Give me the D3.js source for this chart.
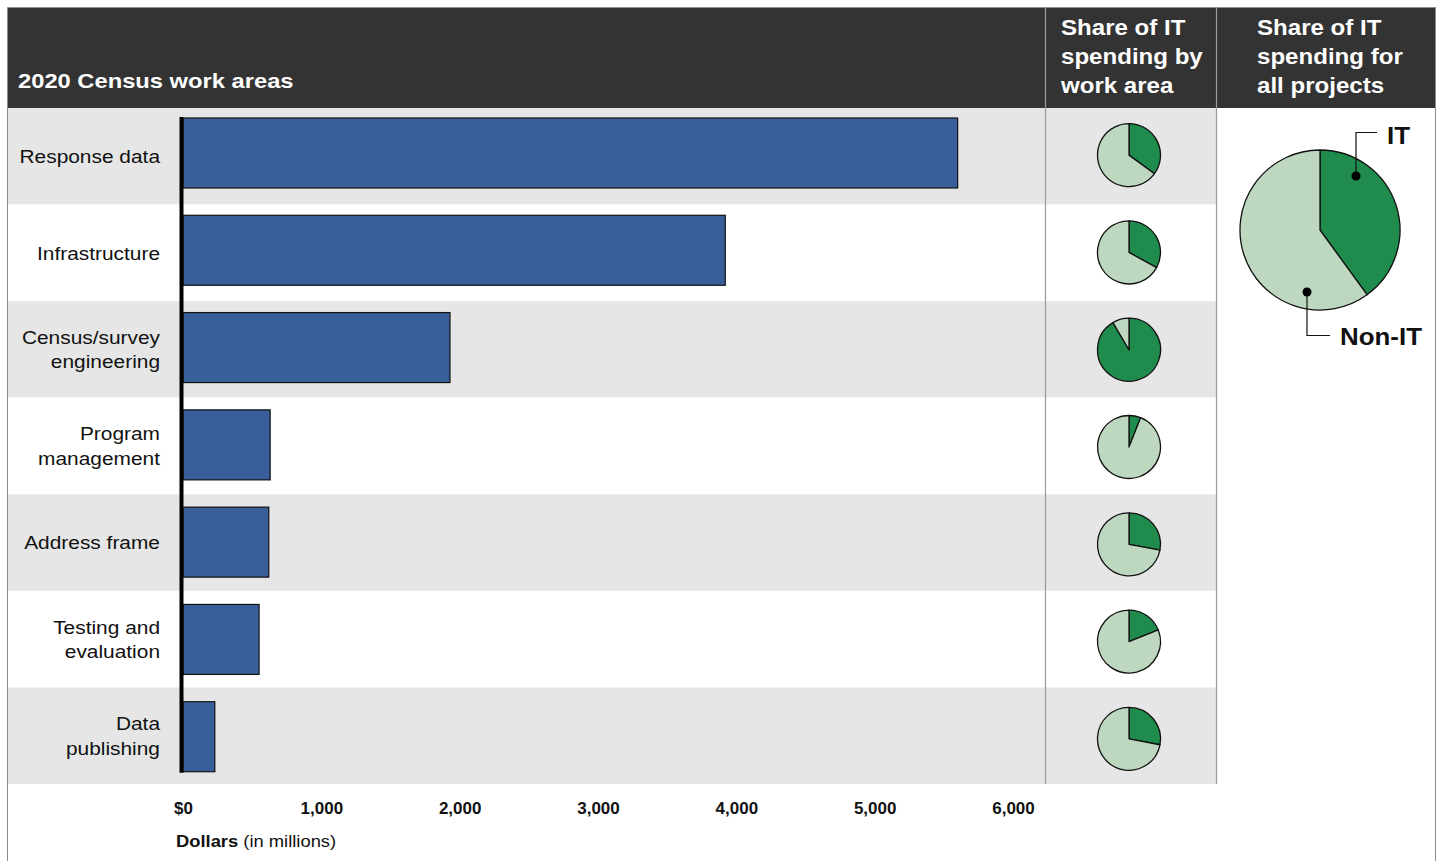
<!DOCTYPE html>
<html>
<head>
<meta charset="utf-8">
<script src="https://cdn.jsdelivr.net/npm/d3@7"></script>
<style>
  html, body { margin: 0; padding: 0; background: #fff; }
  svg { display: block; font-family: "Liberation Sans", Arial, sans-serif; }
</style>
</head>
<body>
<svg id="chart" width="1440" height="861"></svg>
<script>
// ---- data ----
const categories = ["Response data", "Infrastructure", "Census/survey\nengineering", "Program\nmanagement", "Address frame", "Testing and\nevaluation", "Data\npublishing"];
const spending = [5600, 3920, 1930, 630, 620, 550, 230];          // dollars in millions
const itShare = [0.35, 0.33, 0.915, 0.06, 0.28, 0.19, 0.28];      // share of IT spending by work area
const overallIT = [{ name: "IT", value: 0.40 }, { name: "Non-IT", value: 0.60 }];
const xTicks = [0, 1000, 2000, 3000, 4000, 5000, 6000];
const xTickLabels = ["$0", "1,000", "2,000", "3,000", "4,000", "5,000", "6,000"];

// ---- layout ----
const svg = d3.select("#chart");
const frameL = 7.5, frameR = 1435.5, frameT = 7.5;
const headerB = 108, rowsB = 784;
const sep1 = 1045.5, sep2 = 1216.5;
const darkGreen = "#1f8b4c", lightGreen = "#bed8c0", barBlue = "#395f9b";

const y = d3.scaleBand().domain(d3.range(categories.length)).range([headerB, rowsB]);      // row backgrounds + labels
const yMark = d3.scaleBand().domain(d3.range(categories.length)).range([106.5, 787.5]);    // bars + pies
const x = d3.scaleLinear().domain([0, 6000]).range([183, 1013]);

// helper: horizontally stretched text (reference type is set slightly wide)
function stext(parent, tx, ty, sx, anchor) {
  return parent.append("text")
    .attr("transform", `translate(${tx},${ty}) scale(${sx},1)`)
    .attr("x", 0).attr("y", 0)
    .attr("text-anchor", anchor || "start");
}

// header
svg.append("rect").attr("x", frameL).attr("y", frameT).attr("width", frameR - frameL).attr("height", headerB - frameT).attr("fill", "#333333");

// row bands
svg.selectAll("rect.band").data(categories).join("rect")
  .attr("class", "band")
  .attr("x", frameL).attr("y", (d, i) => y(i))
  .attr("width", sep2 - frameL).attr("height", y.bandwidth())
  .attr("fill", (d, i) => i % 2 === 0 ? "#e6e6e6" : "#ffffff");

// frame
svg.append("path")
  .attr("d", `M${frameL},861 V${frameT} H${frameR} V861`)
  .attr("fill", "none").attr("stroke", "#8c8c8c").attr("stroke-width", 1);

// separators
[sep1, sep2].forEach(sx => {
  svg.append("line").attr("x1", sx).attr("x2", sx).attr("y1", frameT).attr("y2", rowsB)
    .attr("stroke", "#9a9a9a").attr("stroke-width", 1.2);
});

// header text
stext(svg, 18, 88, 1.13).attr("fill", "#fff")
  .attr("font-size", 21).attr("font-weight", "bold").text("2020 Census work areas");
const head2 = ["Share of IT", "spending by", "work area"];
const head3 = ["Share of IT", "spending for", "all projects"];
[[head2, 1061], [head3, 1257]].forEach(([lines, hx]) => {
  lines.forEach((l, i) => {
    stext(svg, hx, 35 + i * 29, 1.07).attr("fill", "#fff")
      .attr("font-size", 22.5).attr("font-weight", "bold").text(l);
  });
});

// bars
const barTop = 11.5, barH = 70;
svg.selectAll("rect.bar").data(spending).join("rect")
  .attr("class", "bar")
  .attr("x", x(0)).attr("y", (d, i) => yMark(i) + barTop)
  .attr("width", d => x(d) - x(0)).attr("height", barH)
  .attr("fill", barBlue).attr("stroke", "#111").attr("stroke-width", 1.2);

// zero axis line
svg.append("line").attr("x1", x(0) - 1.5).attr("x2", x(0) - 1.5)
  .attr("y1", yMark(0) + barTop - 1).attr("y2", yMark(categories.length - 1) + barTop + barH + 1)
  .attr("stroke", "#000").attr("stroke-width", 4);

// row labels
categories.forEach((c, i) => {
  const lines = c.split("\n");
  const cy = y(i) + y.bandwidth() / 2;
  const lh = 24.5;
  lines.forEach((l, k) => {
    stext(svg, 160, cy + (k - (lines.length - 1) / 2) * lh, 1.13, "end")
      .attr("dy", "0.36em").attr("font-size", 18.5).attr("fill", "#111").text(l);
  });
});

// x axis
const xAxis = d3.axisBottom(x).tickValues(xTicks).tickSize(0).tickFormat((d, i) => xTickLabels[i]);
const gx = svg.append("g").attr("transform", `translate(0, 799)`).call(xAxis);
gx.select(".domain").remove();
gx.selectAll("text")
  .attr("font-family", '"Liberation Sans Narrow", "Arial Narrow", "Liberation Sans", sans-serif')
  .attr("font-size", 17).attr("font-weight", "bold").attr("fill", "#111");
const axt = stext(svg, 176, 847, 1.08).attr("font-size", 17)
  .attr("font-family", '"Liberation Sans Narrow", "Arial Narrow", "Liberation Sans", sans-serif').attr("fill", "#111");
axt.append("tspan").attr("font-weight", "bold").text("Dollars");
axt.append("tspan").text(" (in millions)");

// small pies
const pie = d3.pie().sort(null).value(d => d);
const smallR = 31.5;
const arcSmall = d3.arc().innerRadius(0).outerRadius(smallR);
itShare.forEach((s, i) => {
  const g = svg.append("g").attr("transform", `translate(1129, ${yMark(i) + yMark.bandwidth() / 2})`);
  g.selectAll("path").data(pie([s, 1 - s])).join("path")
    .attr("d", arcSmall)
    .attr("fill", (d, k) => k === 0 ? darkGreen : lightGreen)
    .attr("stroke", "#111").attr("stroke-width", 1.3).attr("stroke-linejoin", "round");
});

// big pie
const bigR = 80, bcx = 1320, bcy = 230;
const arcBig = d3.arc().innerRadius(0).outerRadius(bigR);
const gb = svg.append("g").attr("transform", `translate(${bcx}, ${bcy})`);
gb.selectAll("path").data(pie(overallIT.map(d => d.value))).join("path")
  .attr("d", arcBig)
  .attr("fill", (d, k) => k === 0 ? darkGreen : lightGreen)
  .attr("stroke", "#111").attr("stroke-width", 1.3).attr("stroke-linejoin", "round");

// leaders
const leaders = [
  { dot: [1356, 176], path: "M1356,176 V132.5 H1377", text: "IT", tx: 1387, ty: 144 },
  { dot: [1307, 292], path: "M1307,292 V335.5 H1330", text: "Non-IT", tx: 1340, ty: 345 }
];
leaders.forEach(l => {
  svg.append("path").attr("d", l.path).attr("fill", "none").attr("stroke", "#111").attr("stroke-width", 1.2);
  svg.append("circle").attr("cx", l.dot[0]).attr("cy", l.dot[1]).attr("r", 4.5).attr("fill", "#000");
  stext(svg, l.tx, l.ty, 1.08).attr("font-size", 24).attr("font-weight", "bold")
    .attr("fill", "#111").text(l.text);
});
</script>
</body>
</html>
